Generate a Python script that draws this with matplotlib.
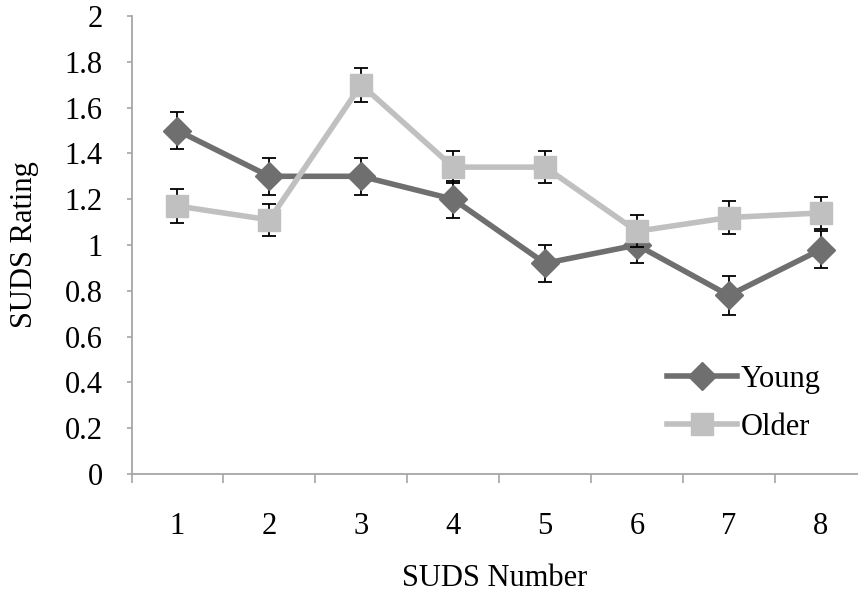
import numpy as np
from matplotlib import pyplot as plt

# SUDS data
suds_number = [1, 2, 3, 4, 5, 6, 7, 8]
young = [1.50, 1.30, 1.30, 1.20, 0.92, 1.00, 0.78, 0.98]
young_err = [0.08, 0.08, 0.08, 0.08, 0.08, 0.08, 0.085, 0.08]
older = [1.17, 1.11, 1.70, 1.34, 1.34, 1.06, 1.12, 1.14]
older_err = [0.075, 0.07, 0.075, 0.07, 0.07, 0.07, 0.07, 0.07]
y_ticks = [0, 0.2, 0.4, 0.6, 0.8, 1, 1.2, 1.4, 1.6, 1.8, 2]

plt.rcParams['font.family'] = ['Liberation Serif', 'DejaVu Serif']
font_size = 22
axis_grey = '#a6a6a6'

fig = plt.figure(figsize=(8.58, 5.94), dpi=100)
ax = fig.add_axes([131.5 / 858, 1 - 474 / 594, 1 - 131.5 / 858, (474 - 16) / 594])

x = np.array(suds_number)
ax.errorbar(x, young, yerr=young_err, fmt='none', ecolor='black', elinewidth=1.3,
            capsize=4.8, capthick=1.3, zorder=2)
ax.plot(x, young, color='#6f6f6f', lw=4.0, marker='D', markersize=14,
        label='Young', zorder=3)
ax.errorbar(x, older, yerr=older_err, fmt='none', ecolor='black', elinewidth=1.3,
            capsize=4.8, capthick=1.3, zorder=4)
ax.plot(x, older, color='#c0c0c0', lw=4.0, marker='s', markersize=16,
        label='Older', zorder=5)

ax.set_xlim(0.5, 0.5 + (858 - 131.5) / 91.9)
ax.set_ylim(0, 2)
ax.set_yticks(y_ticks)
ax.set_yticklabels([f'{t:g}' for t in y_ticks], fontsize=font_size)
ax.set_xticks(x)
ax.set_xticklabels([str(n) for n in suds_number], fontsize=font_size)
ax.set_xticks(np.arange(0.5, 8.5, 1.0), minor=True)
ax.tick_params(axis='x', which='major', length=0, pad=27)
ax.tick_params(axis='x', which='minor', length=6.5, width=1.2, color=axis_grey)
ax.tick_params(axis='y', length=3.8, width=1.2, color=axis_grey, pad=17)

for side in ['top', 'right']:
    ax.spines[side].set_visible(False)
for side in ['left', 'bottom']:
    ax.spines[side].set_color(axis_grey)
    ax.spines[side].set_linewidth(1.3)

ax.set_xlabel('SUDS Number', fontsize=font_size, labelpad=17)
ax.set_ylabel('SUDS Rating', fontsize=font_size, labelpad=18)

ax.legend(loc='upper left', bbox_to_anchor=(0.737, 0.238), frameon=False,
          fontsize=font_size, handlelength=2.3, handletextpad=0.1,
          labelspacing=0.62, borderpad=0, borderaxespad=0)

fig.savefig('out.png', dpi=100)
